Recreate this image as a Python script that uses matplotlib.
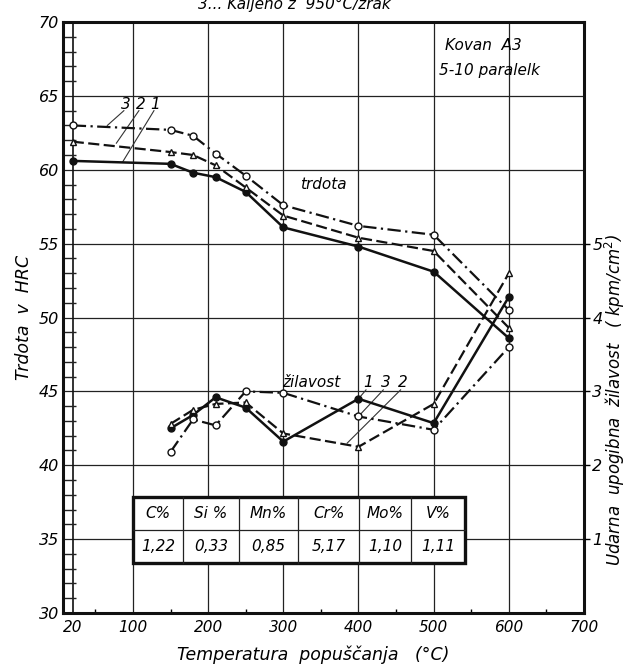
import matplotlib
matplotlib.use("Agg")
import matplotlib.pyplot as plt
from matplotlib.patches import Rectangle

# ---------------- data ----------------
temp_hard = [20, 150, 180, 210, 250, 300, 400, 500, 600]
hard_1 = [60.6, 60.4, 59.8, 59.5, 58.5, 56.1, 54.8, 53.1, 48.6]
hard_2 = [61.9, 61.2, 61.0, 60.3, 58.8, 56.9, 55.4, 54.5, 49.3]
hard_3 = [63.0, 62.7, 62.3, 61.1, 59.6, 57.6, 56.2, 55.6, 50.5]

temp_tough = [150, 180, 210, 250, 300, 400, 500, 600]
tough_1 = [2.50, 2.68, 2.92, 2.78, 2.32, 2.90, 2.57, 4.28]
tough_2 = [2.56, 2.75, 2.83, 2.85, 2.43, 2.25, 2.83, 4.60]
tough_3 = [2.18, 2.62, 2.54, 3.00, 2.98, 2.66, 2.48, 3.60]

x_ticks = [20, 100, 200, 300, 400, 500, 600, 700]
y_ticks = [30, 35, 40, 45, 50, 55, 60, 65, 70]
y2_ticks = [1, 2, 3, 4, 5]

table_head = ["C%", "Si %", "Mn%", "Cr%", "Mo%", "V%"]
table_vals = ["1,22", "0,33", "0,85", "5,17", "1,10", "1,11"]

FONT = dict(family="DejaVu Sans", style="italic")

fig = plt.figure(figsize=(6.26, 6.69), dpi=100)
ax = fig.add_axes([0.1006, 0.0837, 0.8324, 0.8834])
ax.set_xlim(7, 700)
ax.set_ylim(30, 70)

# grid
for xv in [100, 200, 300, 400, 500, 600]:
    ax.axvline(xv, color="#222222", lw=0.9, zorder=1)
for yv in [35, 40, 45, 50, 55, 60, 65]:
    ax.axhline(yv, color="#222222", lw=0.9, zorder=1)
ax.axvline(20, color="#111111", lw=1.2, zorder=1)

for s in ax.spines.values():
    s.set_linewidth(2.2)
    s.set_color("#111111")

ax.set_xticks(x_ticks)
ax.set_xticklabels([str(v) for v in x_ticks], fontsize=11, **FONT)
ax.set_xticks(list(range(50, 700, 100)), minor=True)
ax.set_yticks(y_ticks)
ax.set_yticklabels([str(v) for v in y_ticks], fontsize=11.5, **FONT)
ax.set_yticks(list(range(30, 71)), minor=True)
ax.tick_params(axis="y", which="major", length=0, pad=3)
ax.tick_params(axis="y", which="minor", direction="in", length=9.3, width=1.0, color="#222222")
ax.tick_params(axis="x", which="major", length=0, pad=5)
ax.tick_params(axis="x", which="minor", direction="in", length=3, width=1.0)
ax.tick_params(right=False, top=False)

# hardness curves
ax.plot(temp_hard, hard_1, color="#111111", lw=1.8, ls="-", marker="o", ms=5,
        mfc="#111111", mec="#111111", zorder=4)
ax.plot(temp_hard, hard_2, color="#111111", lw=1.6, ls=(0, (5, 2)), marker="^", ms=5,
        mfc="white", mec="#111111", mew=1.0, zorder=4)
ax.plot(temp_hard, hard_3, color="#111111", lw=1.6, ls=(0, (6, 2, 1, 2)), marker="o", ms=5,
        mfc="white", mec="#111111", mew=1.0, zorder=4)

# toughness axis
ax2 = ax.twinx()
ax2.set_ylim(0, 8)
for s in ax2.spines.values():
    s.set_visible(False)
ax2.set_yticks(y2_ticks)
ax2.set_yticklabels([str(v) for v in y2_ticks], fontsize=11.5, **FONT)
ax2.tick_params(axis="y", length=4, width=1.0, pad=2)
ax2.plot(temp_tough, tough_1, color="#111111", lw=1.8, ls="-", marker="o", ms=5,
         mfc="#111111", mec="#111111", zorder=4)
ax2.plot(temp_tough, tough_2, color="#111111", lw=1.6, ls=(0, (5, 2)), marker="^", ms=5,
         mfc="white", mec="#111111", mew=1.0, zorder=4)
ax2.plot(temp_tough, tough_3, color="#111111", lw=1.6, ls=(0, (6, 2, 1, 2)), marker="o", ms=5,
         mfc="white", mec="#111111", mew=1.0, zorder=4)

# axis labels
ax.set_xlabel("Temperatura  popuščanja   (°C)", fontsize=12.5, **FONT)
ax.xaxis.set_label_coords(0.48, -0.055)
ax.set_ylabel("Trdota  v  HRC", fontsize=12.5, labelpad=4, **FONT)
ax2.set_ylabel("Udarna  upogibna  žilavost   ( kpm/cm$^2$)", fontsize=12, **FONT)
ax2.yaxis.set_label_coords(1.036, 0.36)

# annotations
ax.text(515, 68.4, "Kovan  A3", fontsize=11, va="center", ha="left", **FONT)
ax.text(507, 66.7, "5-10 paralelk", fontsize=11, va="center", ha="left", **FONT)
ax.text(322, 59.0, "trdota", fontsize=11, va="center", ha="left", **FONT)
ax.text(298, 45.6, "žilavost", fontsize=11, va="center", ha="left", **FONT)

for lab, tx in zip(["3", "2", "1"], [90, 110, 130]):
    ax.text(tx, 64.45, lab, fontsize=11, ha="center", va="center", **FONT)
ax.plot([88, 66], [64.0, 63.0], color="#333333", lw=0.8, zorder=3)
ax.plot([108, 78], [64.0, 61.8], color="#333333", lw=0.8, zorder=3)
ax.plot([128, 86], [64.0, 60.5], color="#333333", lw=0.8, zorder=3)

for lab, tx in zip(["1", "3", "2"], [413, 436, 459]):
    ax.text(tx, 45.6, lab, fontsize=11, ha="center", va="center", **FONT)
ax.plot([410, 400], [45.1, 44.5], color="#333333", lw=0.8, zorder=3)
ax.plot([433, 398], [45.1, 43.2], color="#333333", lw=0.8, zorder=3)
ax.plot([456, 385], [45.1, 41.5], color="#333333", lw=0.8, zorder=3)

# composition table
tx0, tx1 = 100, 541
ty0, ty1, tmid = 33.4, 37.85, 35.65
col_w = [50, 56, 59, 61, 52, 53]
tot = sum(col_w)
edges = [tx0]
for w in col_w:
    edges.append(edges[-1] + w / tot * (tx1 - tx0))
ax.add_patch(Rectangle((tx0, ty0), tx1 - tx0, ty1 - ty0, facecolor="white",
                       edgecolor="#111111", lw=2.4, zorder=5))
ax.plot([tx0, tx1], [tmid, tmid], color="#222222", lw=0.9, zorder=6)
for e in edges[1:-1]:
    ax.plot([e, e], [ty0, ty1], color="#222222", lw=0.9, zorder=6)
for i in range(len(table_head)):
    cx = (edges[i] + edges[i + 1]) / 2
    ax.text(cx, (tmid + ty1) / 2, table_head[i], fontsize=11, ha="center", va="center",
            zorder=7, **FONT)
    ax.text(cx, (ty0 + tmid) / 2, table_vals[i], fontsize=11, ha="center", va="center",
            zorder=7, **FONT)

# partially cut title at the top
fig.text(0.47, 1 - 9 / 669, "3... Kaljeno z  950°C/zrak", fontsize=11, ha="center",
         va="baseline", **FONT)

fig.savefig("out.png", dpi=100)
